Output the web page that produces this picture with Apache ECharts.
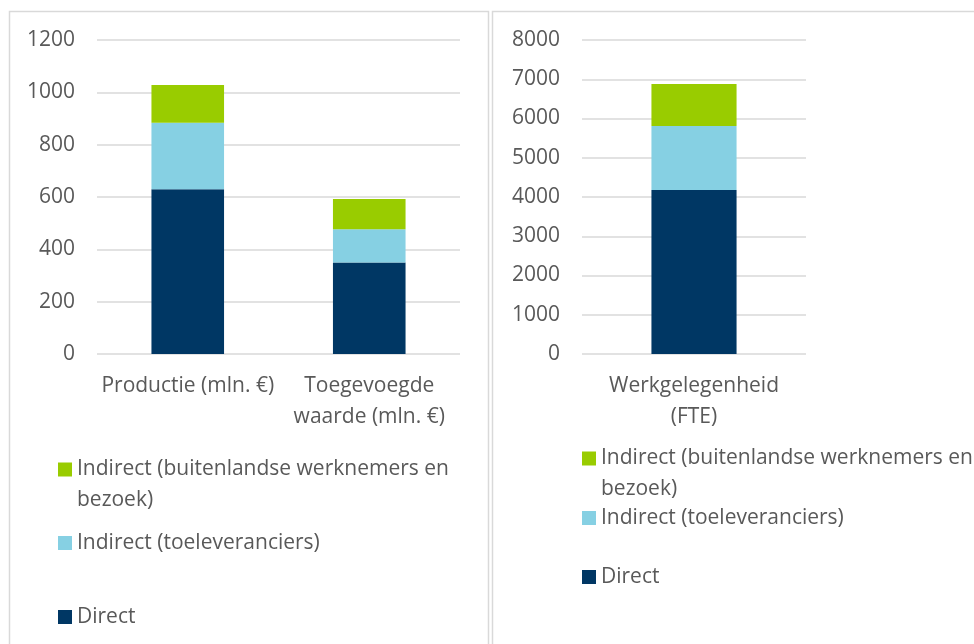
<!DOCTYPE html>
<html>
<head>
<meta charset="utf-8">
<script src="https://cdn.jsdelivr.net/npm/echarts@6/dist/echarts.min.js"></script>
<style>
html,body{margin:0;padding:0;background:#fff;}
#c{width:974px;height:644px;}
</style>
</head>
<body>
<div id="c"></div>
<script>
// ---- data ----
const categoriesLeft = ['Productie (mln. €)', 'Toegevoegde\nwaarde (mln. €)'];
const directLeft = [630, 350];
const toeleverLeft = [254, 127];
const buitenLeft = [144, 115];

const categoriesRight = ['Werkgelegenheid\n(FTE)'];
const directRight = [4180];
const toeleverRight = [1630];
const buitenRight = [1070];

const axisLeft = { min: 0, max: 1200, interval: 200 };
const axisRight = { min: 0, max: 8000, interval: 1000 };

const NAME_BUITEN = 'Indirect (buitenlandse werknemers en bezoek)';
const NAME_TOELEV = 'Indirect (toeleveranciers)';
const NAME_DIRECT = 'Direct';
const LABEL_BUITEN_WRAPPED = '\u00a0\nIndirect (buitenlandse werknemers en\nbezoek)';

// ---- styles ----
const FONT = 'Open Sans';
const FS = 21;
const TXT = '#595959';
const GRID = '#d9d9d9';
const C_DIRECT = '#003764';
const C_TOELEV = '#86D0E3';
const C_BUITEN = '#99CC00';

function yAxisCfg(idx, ax) {
  return {
    type: 'value', gridIndex: idx, min: ax.min, max: ax.max, interval: ax.interval,
    axisLine: { show: false }, axisTick: { show: false },
    axisLabel: { color: TXT, fontFamily: FONT, fontSize: FS, margin: 22, formatter: v => String(v) },
    splitLine: { lineStyle: { color: GRID, width: 1.5 } }
  };
}
function xAxisCfg(idx, cats) {
  return {
    type: 'category', gridIndex: idx, data: cats,
    axisLine: { show: false }, axisTick: { show: false },
    axisLabel: { color: TXT, fontFamily: FONT, fontSize: FS, lineHeight: 31, margin: 17, interval: 0 }
  };
}
function seriesFor(idx, d, t, b, bw) {
  return [
    { name: NAME_DIRECT, type: 'bar', stack: 's' + idx, xAxisIndex: idx, yAxisIndex: idx, data: d, barWidth: bw, itemStyle: { color: C_DIRECT } },
    { name: NAME_TOELEV, type: 'bar', stack: 's' + idx, xAxisIndex: idx, yAxisIndex: idx, data: t, barWidth: bw, itemStyle: { color: C_TOELEV } },
    { name: NAME_BUITEN, type: 'bar', stack: 's' + idx, xAxisIndex: idx, yAxisIndex: idx, data: b, barWidth: bw, itemStyle: { color: C_BUITEN } }
  ];
}
function legendItem(name, left, top, formatter, lh) {
  const l = {
    left: left, top: top, padding: 0, data: [name], icon: 'rect',
    itemWidth: 14, itemHeight: 14,
    textStyle: { color: TXT, fontFamily: FONT, fontSize: FS, lineHeight: lh || 30 },
    selectedMode: false
  };
  if (formatter) l.formatter = formatter;
  return l;
}

const chart = echarts.init(document.getElementById('c'));
chart.setOption({
  animation: false,
  backgroundColor: '#fff',
  graphic: [
    { type: 'rect', shape: { x: 9.5, y: 11.5, width: 479, height: 650 }, style: { fill: 'none', stroke: GRID, lineWidth: 1.5 }, silent: true },
    { type: 'rect', shape: { x: 492.5, y: 11.5, width: 500, height: 650 }, style: { fill: 'none', stroke: GRID, lineWidth: 1.5 }, silent: true }
  ],
  grid: [
    { left: 97, right: 514, top: 40, bottom: 290 },
    { left: 582, right: 168, top: 40, bottom: 290 }
  ],
  xAxis: [xAxisCfg(0, categoriesLeft), xAxisCfg(1, categoriesRight)],
  yAxis: [yAxisCfg(0, axisLeft), yAxisCfg(1, axisRight)],
  legend: [
    legendItem(NAME_BUITEN, 58, 423, LABEL_BUITEN_WRAPPED, 31),
    legendItem(NAME_TOELEV, 58, 528),
    legendItem(NAME_DIRECT, 58, 602),
    legendItem(NAME_BUITEN, 582, 412, LABEL_BUITEN_WRAPPED, 31),
    legendItem(NAME_TOELEV, 582, 503),
    legendItem(NAME_DIRECT, 582, 562)
  ],
  series: [].concat(
    seriesFor(0, directLeft, toeleverLeft, buitenLeft, '40%'),
    seriesFor(1, directRight, toeleverRight, buitenRight, '38%')
  )
});
</script>
</body>
</html>
